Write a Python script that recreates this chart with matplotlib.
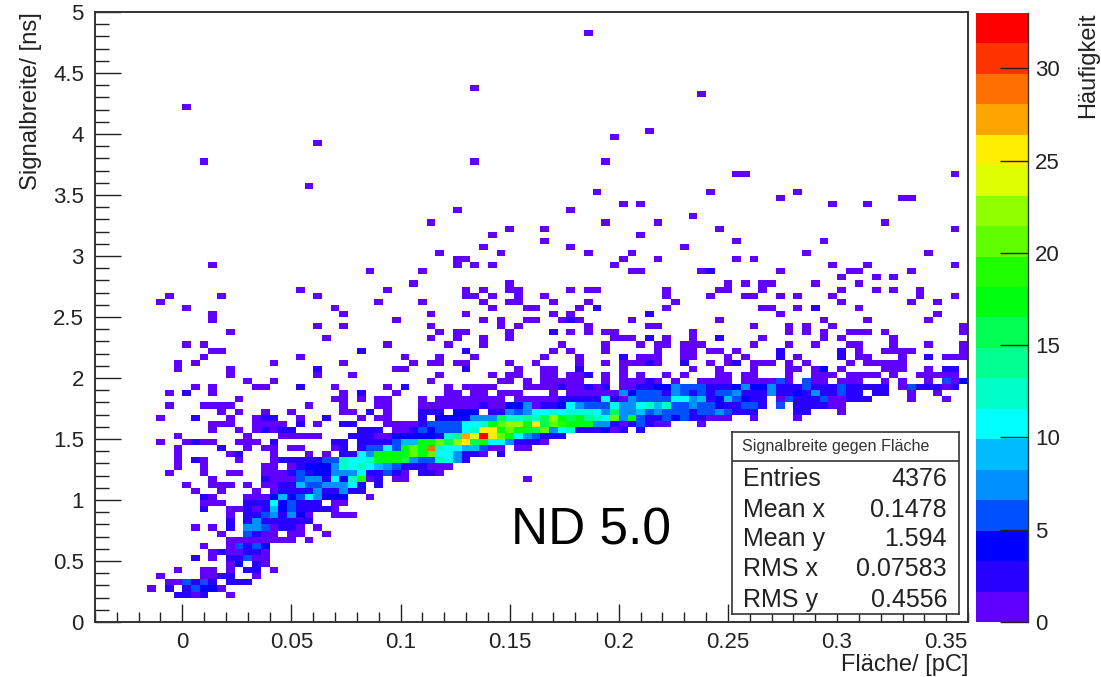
import numpy as np
import matplotlib
matplotlib.use("Agg")
import matplotlib.pyplot as plt
from matplotlib.colors import ListedColormap, BoundaryNorm
from matplotlib.ticker import MultipleLocator

plt.rcParams['font.family'] = ['Liberation Sans', 'DejaVu Sans']

# 2D histogram: 100 x 100 bins; row index = y bin, int = x bin with count 1, tuple = (x bin, count)
x_edges = np.linspace(-0.04, 0.36, 101)
y_edges = np.linspace(0.0, 5.0, 101)
hist_rows = {
 96:[56], 87:[43], 86:[69], 84:[10], 80:[63], 79:[59], 78:[25], 75:[12,43,58], 73:[73,74,98], 71:[24],
 70:[57,70,80], 69:[78,92,93], 68:[60,62,84,88], 67:[41,54], 66:[68], 65:[38,58,64,90], 64:[47,51,71,98],
 63:[45,62], 62:[51,73,83], 61:[44,54,67], 60:[39,46,56,61,81,95], 59:[41,42,60,64,73,75],
 58:[13,41,43,45,59,84,88,98], 57:[31,37,61,62,69,(70,2),78,86,87,93], 56:[85,89,91],
 55:[36,47,72,74,76,77,82,87], 54:[23,33,42,44,47,48,54,56,57,65,71,72,76,85,89,91,94],
 53:[8,14,25,42,43,45,48,51,65,70,74,75,78,80,84,94,98], 52:[7,32,37,44,47,48,52,56,66,85,93,96],
 51:[10,27,45,49,50,55,(57,2),65,76,77,80,(82,2),87], 50:[13,28,38,42,52,54,(63,2),78,96],
 49:[13,34,44,46,49,50,53,(54,2),55,61,71,83,88,95], 48:[25,28,38,46,48,56,63,64,75,79,81,84,99],
 47:[15,39,41,42,47,(52,2),54,56,58,59,68,79,81,83,86,87,88,90,99],
 46:[26,38,41,44,47,59,60,61,(63,2),65,68,(71,2),76,83,85,91],
 45:[10,12,33,40,44,53,58,62,64,65,67,68,69,75,79,82,86,87,91,95,99],
 44:[13,14,(30,2),(42,2),52,54,58,64,67,68,70,71,73,(78,2),(85,2),87,90,91,92,93,99],
 43:[12,23,35,39,43,51,55,(60,2),62,63,64,67,68,72,74,(78,2),80,(85,2),87,88,92,(95,2),97,98,99],
 42:[9,11,20,28,36,38,39,41,42,47,50,55,58,60,61,62,(63,2),64,(67,2),70,72,(73,2),75,76,77,79,81,86,88,89,90,91,92],
 41:[9,15,(25,2),34,35,(42,2),48,51,52,(55,2),60,68,71,75,79,80,82,(83,4),85,90,91,92,95,(97,2),(98,2)],
 40:[15,25,29,39,45,47,48,51,52,54,55,(56,2),58,60,62,65,67,71,72,74,75,79,82,83,84,86,87,88,89,91,94,95,96,97,98],
 39:[17,20,38,46,47,49,51,52,53,54,55,58,60,61,62,(63,2),64,66,69,70,71,72,74,75,76,77,(78,6),79,(81,5),82,83,85,86,87,90,92,95,(97,5),98,(99,4)],
 38:[11,13,18,19,(23,2),27,33,(35,2),40,42,43,44,45,49,50,51,52,(53,2),54,55,(56,2),57,(58,2),60,61,(62,3),(63,3),(64,4),(65,4),(66,7),(67,5),(68,5),(69,5),(70,3),(71,3),(72,3),(73,4),(74,7),(75,4),(76,4),(77,7),(78,3),(79,3),(80,2),(81,6),(82,3),(83,3),(84,3),(85,5),(86,3),(87,3),(88,3),(89,3),(90,3),92,(93,5),(94,3),(95,3),(96,3),97,(98,3)],
 37:[8,(10,2),13,28,(30,2),34,40,41,43,44,46,47,48,52,54,55,56,57,58,59,(60,7),(61,4),(62,5),(63,5),(64,5),(65,3),(66,8),(67,5),(68,3),(69,6),(70,3),(71,5),(72,5),(73,7),(74,3),(75,3),(76,3),(77,7),(78,3),(79,2),(80,4),(81,2),(82,8),(83,3),(84,3),(85,6),(86,2),(87,3),(89,3),(90,3),93,96],
 36:[16,27,28,30,32,33,37,39,40,41,42,43,44,45,46,48,49,50,51,52,(53,3),(54,3),(55,3),(56,3),(57,3),(58,11),(59,3),60,(61,7),(62,5),(63,6),(64,6),(65,6),(66,11),(67,11),(68,8),(69,9),(70,3),(71,4),(72,9),(73,5),(74,4),(75,3),(76,3),78,(79,6),(80,3),(81,3),(82,3),(83,5),84,85,(86,3),(87,3),(88,3),93,97],
 35:[8,12,13,14,15,24,28,32,33,37,38,39,40,41,42,43,(44,3),45,46,(47,4),(48,4),(49,8),50,(51,3),(52,3),(53,4),(54,11),(55,7),(56,5),(57,5),(58,6),(59,11),(60,7),(61,7),(62,11),(63,13),(64,9),(65,12),(66,6),(67,6),(68,7),(69,5),(70,6),(71,4),(72,2),(73,2),(74,5),(75,5),(76,3),(78,6),(80,3),(81,3),(82,2),(83,3),84,85],
 34:[14,16,19,22,28,29,(31,2),33,(37,3),(38,3),(39,3),(41,4),(42,4),(43,4),(45,3),(46,3),(47,7),(48,5),(49,7),(50,10),(51,11),(52,12),(53,11),(54,13),(55,13),(56,12),(57,11),(58,8),(59,15),(60,7),(61,7),(62,9),(63,5),(64,7),(65,5),(66,6),(67,6),(68,3),(69,5),(70,5),(71,7),(72,5),(73,3),(74,3),(75,3),(80,3),(81,3),85],
 33:[7,(11,2),15,18,(19,2),(20,2),23,(26,2),30,32,33,(37,3),(39,4),(40,4),(41,4),(42,4),(43,7),(44,7),(45,7),(46,16),(47,13),(48,13),(49,14),(50,13),(51,15),(52,23),(53,17),(54,16),(55,17),(56,14),(57,12),(58,11),(59,20),(60,7),(61,18),(62,5),(63,3),(64,3),(65,5),(66,4),(67,5),(68,3),(69,3),70,71,72,75,80],
 32:[13,14,15,18,19,20,21,(23,2),25,(28,3),(29,3),33,34,35,36,(37,3),(38,5),(39,5),(40,5),(41,5),(42,10),(43,11),(44,12),(45,17),(46,20),(47,22),(48,22),(49,17),(50,26),(51,15),(52,21),(53,19),(54,18),(55,17),(56,17),(57,8),(58,8),(59,3),60,(61,3),(62,5),(63,3),(64,1),65,69],
 31:[13,16,18,(19,2),20,(21,2),(22,2),(30,3),(31,3),(32,3),34,35,(36,3),(37,6),(38,4),(39,5),(40,5),(41,6),(42,11),(43,13),(44,26),(45,26),(46,17),(47,21),(48,18),(49,17),(50,15),(51,20),(52,8),(53,10),(54,12),(55,3),(56,3),(57,3),(58,4),59,(60,3),(62,3)],
 30:[9,17,21,22,23,24,25,(29,3),(30,3),(31,3),32,33,(34,4),(35,4),(36,4),(37,4),(38,4),(39,3),(40,12),(41,14),(42,27),(43,24),(44,33),(45,26),(46,21),(47,18),(48,11),(49,8),(50,5),(51,3),(52,3),(53,3)],
 29:[7,10,(11,2),12,13,16,17,18,(20,2),(27,2),(28,2),(30,3),(31,3),(32,3),(33,3),(34,6),(35,9),(36,9),(37,17),(38,17),(39,20),(40,16),(41,23),(42,26),(43,15),(44,17),(45,11),(46,11),(47,8),(48,3),(49,2),(50,2),51],
 28:[9,(14,2),17,19,20,22,23,27,(28,3),(30,3),(31,6),(32,6),(33,11),(34,6),(35,17),(36,21),(37,18),(38,29),(39,13),(40,11),(41,10),(42,9),(43,9),(44,5),45,46,48,49],
 27:[9,15,(16,2),20,24,26,(28,3),(29,3),(30,11),(31,7),(32,17),(33,17),(34,17),(35,18),(36,21),(37,18),(38,21),(39,11),(40,11),(41,8),(42,3),(43,3),44,(46,3)],
 26:[9,(11,2),12,16,20,(21,2),(22,3),(23,3),(24,3),(25,3),(26,5),(27,5),(28,13),(29,11),(30,11),(31,13),(32,17),(33,17),(34,17),(35,15),(36,7),(37,6),(38,5),(39,12),(40,11),(41,7),(42,3)],
 25:[9,12,19,20,22,(23,3),(24,4),(25,4),(26,4),(27,7),(28,13),(29,11),(30,13),(31,11),(32,9),(33,7),(34,5),(35,3),(36,3),(37,3),38,39,40],
 24:[8,12,15,16,19,20,21,(22,2),(23,5),(24,3),(25,4),(26,4),(27,7),(28,8),(29,8),(30,11),(31,3),(32,3),(33,5),(34,3),35,(37,3),(38,3),39],
 23:[13,(19,2),20,21,22,(23,6),(24,8),(25,8),(26,3),(27,11),(28,4),(29,13),(30,19),31,(32,3),34,35,49],
 22:[10,13,14,15,17,19,20,(21,3),(22,3),(23,9),(24,6),(25,6),(26,7),(27,8),(28,7),(29,11),(30,3),(32,3)],
 21:[11,14,18,20,(21,3),(22,3),(23,3),(24,3),(25,8),(26,3),(27,3),(28,7),(29,3),(30,3)],
 20:[(12,2),13,17,18,19,(20,4),(21,9),(22,4),(23,5),(24,11),(25,7),(26,4),(27,4),(28,4),31],
 19:[12,13,14,(17,3),(18,3),(19,3),(20,11),(21,4),(22,6),(23,3),(24,3),(25,3),27,28],
 18:[(12,2),15,16,(17,3),18,(19,3),(20,9),(21,4),(22,6),(23,3),(24,3),(25,3),(26,3),27],
 17:[15,(17,3),(18,2),(19,5),(20,7),(21,3),(22,8),(23,4),24,27,28,29],
 16:[(15,2),(17,3),(18,8),(19,3),(20,3),(21,3),(22,3),(23,3),(24,3)],
 15:[11,13,(15,2),(17,7),(18,8),(19,6),20,(21,3),(22,3),23,25],
 14:[14,(17,6),(18,3),19,20,22,23,26],
 13:[15,16,17,18,19,20,21,22,24],
 12:[12,15,(16,5),(17,3),(18,6),(19,4)],
 11:[13,(14,3),15,16,(17,3),(18,3),19],
 10:[(11,2),13,(15,3),(16,3),(17,6),18,19],
 9:[15,(16,4),(18,3),19],
 8:[9,12,13,15,(17,3),(18,3),20],
 7:[7,12,13,(14,3),(15,3),18],
 6:[8,9,(10,5),(11,3),(12,6),(13,3),(15,3),(16,3),(17,3)],
 5:[6,(8,3),(10,3),(11,5),(12,4),(13,4),14],
 4:[(9,3),(10,3),11,(12,3),15],
}
level_edges = np.linspace(0, 33, 21)
band_colors = ['#6000FF','#2800FF','#0000FF','#0050FF','#0090FF','#00BBFF','#00FFFF','#00FFC8','#00FF90','#00FF50',
               '#00FF10','#20FF00','#60FF00','#90FF00','#DDFF00','#FFEE00','#FFA500','#FF7000','#FF3300','#FF0000']
x_ticks = [0, 0.05, 0.1, 0.15, 0.2, 0.25, 0.3, 0.35]
x_tick_labels = ['0', '0.05', '0.1', '0.15', '0.2', '0.25', '0.3', '0.35']
y_ticks = [0, 0.5, 1, 1.5, 2, 2.5, 3, 3.5, 4, 4.5, 5]
y_tick_labels = ['0', '0.5', '1', '1.5', '2', '2.5', '3', '3.5', '4', '4.5', '5']
cbar_ticks = [0, 5, 10, 15, 20, 25, 30]
stats_names = ['Entries', 'Mean x', 'Mean y', 'RMS x', 'RMS y']
stats_values = ['4376', '0.1478', '1.594', '0.07583', '0.4556']

counts = np.zeros((100, 100))
for iy, cells in hist_rows.items():
    for c in cells:
        ix, n = c if isinstance(c, tuple) else (c, 1)
        counts[iy, ix] = max(counts[iy, ix], n)

W, H = 1101, 677
fig = plt.figure(figsize=(W / 100, H / 100), dpi=100)
def rect(l, t, r, b):
    return [l / W, 1 - b / H, (r - l) / W, (b - t) / H]

ax = fig.add_axes(rect(95, 12, 968, 622))
cmap = ListedColormap(band_colors)
norm = BoundaryNorm(level_edges, 20, clip=True)
mesh = ax.pcolormesh(x_edges, y_edges, np.ma.masked_equal(counts, 0), cmap=cmap, norm=norm,
                     linewidth=0, antialiased=False)
ax.set_xlim(-0.04, 0.36)
ax.set_ylim(0, 5)
ax.set_xticks(x_ticks, x_tick_labels)
ax.set_yticks(y_ticks, y_tick_labels)
ax.xaxis.set_minor_locator(MultipleLocator(0.01))
ax.yaxis.set_minor_locator(MultipleLocator(0.1))
ax.tick_params(axis='x', which='major', direction='in', length=13, width=1, labelsize=16, pad=7, colors='#222222')
ax.tick_params(axis='x', which='minor', direction='in', length=7, width=1, color='#222222')
ax.tick_params(axis='y', which='major', direction='in', length=19, width=1, labelsize=16, pad=8, colors='#222222')
ax.tick_params(axis='y', which='minor', direction='in', length=10, width=1, color='#222222')
for s in ax.spines.values():
    s.set_linewidth(1.4)
    s.set_color('#333333')
fig.text(968 / W, 1 - 665 / H, 'Fläche/ [pC]', ha='right', va='center', fontsize=17, color='#222222')
fig.text(31 / W, 1 - 12 / H, 'Signalbreite/ [ns]', ha='center', va='top', rotation=90, fontsize=17.2, color='#222222')

cax = fig.add_axes(rect(975.5, 13, 1028, 622))
cb = fig.colorbar(mesh, cax=cax, spacing='proportional', ticks=cbar_ticks)
cb.outline.set_visible(False)
cb.dividers.set_visible(False)
cb.ax.minorticks_off()
cb.ax.tick_params(direction='in', length=20, width=1, labelsize=16, pad=5, colors='#222222')
cb.ax.spines['right'].set_visible(True)
cb.ax.spines['right'].set_linewidth(1)
cb.ax.spines['right'].set_color('#333333')
fig.text(1088 / W, 1 - 13 / H, 'Häufigkeit', ha='center', va='top', rotation=90, fontsize=17, color='#222222')

fig.text(591 / W, 1 - 531 / H, 'ND 5.0', ha='center', va='center', fontsize=37, color='black')

# statistics box
box = fig.add_axes(rect(732, 432, 958.5, 614), zorder=5)
box.set_xticks([])
box.set_yticks([])
for s in box.spines.values():
    s.set_linewidth(1.2)
    s.set_color('#333333')
box.set_xlim(732, 958.5)
box.set_ylim(614, 432)
box.axhline(461, color='#333333', lw=1.2)
box.text(742, 447, 'Signalbreite gegen Fläche', ha='left', va='center', fontsize=11.6, color='#333333')
for yc, name, val in zip([479, 510, 539, 569, 600], stats_names, stats_values):
    box.text(743, yc, name, ha='left', va='center', fontsize=18, color='#222222')
    box.text(947, yc, val, ha='right', va='center', fontsize=18, color='#222222')

fig.savefig('out.png', dpi=100)
